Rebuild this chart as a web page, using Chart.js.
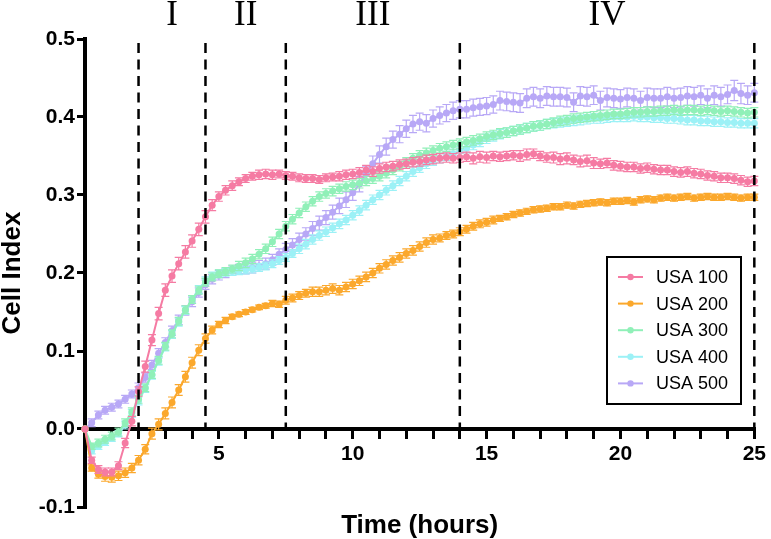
<!DOCTYPE html>
<html>
<head>
<meta charset="utf-8">
<script src="https://cdn.jsdelivr.net/npm/chart.js@4"></script>
<style>
  html, body { margin: 0; padding: 0; background: #fff; }
  #wrap { width: 771px; height: 539px; }
</style>
</head>
<body>
<div id="wrap"><canvas id="chart" width="771" height="539"></canvas></div>
<script>
// time points, every 15 min (hours)
var hours = [
  0, 0.25, 0.5, 0.75, 1, 1.25, 1.5, 1.75, 2, 2.25, 2.5, 2.75, 3, 3.25, 3.5, 3.75,
  4, 4.25, 4.5, 4.75, 5, 5.25, 5.5, 5.75, 6, 6.25, 6.5, 6.75, 7, 7.25, 7.5, 7.75,
  8, 8.25, 8.5, 8.75, 9, 9.25, 9.5, 9.75, 10, 10.25, 10.5, 10.75, 11, 11.25, 11.5, 11.75,
  12, 12.25, 12.5, 12.75, 13, 13.25, 13.5, 13.75, 14, 14.25, 14.5, 14.75, 15, 15.25, 15.5, 15.75,
  16, 16.25, 16.5, 16.75, 17, 17.25, 17.5, 17.75, 18, 18.25, 18.5, 18.75, 19, 19.25, 19.5, 19.75,
  20, 20.25, 20.5, 20.75, 21, 21.25, 21.5, 21.75, 22, 22.25, 22.5, 22.75, 23, 23.25, 23.5, 23.75,
  24, 24.25, 24.5, 24.75, 25
];

var seriesNames = ["USA 100", "USA 200", "USA 300", "USA 400", "USA 500"];
var seriesColors = ["#F57BA3", "#FBA82C", "#90F0B8", "#9CF1F6", "#B8A8F6"];

var usa100 = [
  0, -0.040, -0.052, -0.055,
  -0.055, -0.047, -0.018, 0.010,
  0.048, 0.080, 0.114, 0.148,
  0.178, 0.196, 0.212, 0.227,
  0.241, 0.256, 0.272, 0.287,
  0.298, 0.306, 0.312, 0.317,
  0.321, 0.324, 0.326, 0.327,
  0.326, 0.327, 0.325, 0.324,
  0.322, 0.321, 0.321, 0.320,
  0.322, 0.323, 0.324, 0.326,
  0.327, 0.329, 0.332, 0.330,
  0.334, 0.336, 0.337, 0.339,
  0.340, 0.342, 0.343, 0.345,
  0.346, 0.347, 0.348, 0.347,
  0.348, 0.349, 0.347, 0.349,
  0.348, 0.350, 0.349, 0.350,
  0.351, 0.350, 0.352, 0.353,
  0.350, 0.348, 0.348, 0.346,
  0.347, 0.345, 0.343, 0.344,
  0.341, 0.340, 0.341, 0.338,
  0.337, 0.336, 0.336, 0.334,
  0.335, 0.333, 0.332, 0.332,
  0.330, 0.329, 0.330, 0.328,
  0.327, 0.325, 0.324, 0.322,
  0.322, 0.321, 0.319, 0.317,
  0.318
];
var usa200 = [
  0, -0.050, -0.058, -0.061,
  -0.062, -0.060, -0.056, -0.050,
  -0.040, -0.026, -0.006, 0.006,
  0.020, 0.034, 0.050, 0.067,
  0.085, 0.101, 0.116, 0.127,
  0.134, 0.139, 0.144, 0.147,
  0.150, 0.153, 0.156, 0.158,
  0.161, 0.160, 0.165, 0.168,
  0.171, 0.174, 0.176, 0.176,
  0.178, 0.180, 0.178, 0.182,
  0.186, 0.190, 0.195, 0.200,
  0.206, 0.211, 0.216, 0.220,
  0.225, 0.229, 0.234, 0.239,
  0.243, 0.245, 0.248, 0.250,
  0.253, 0.256, 0.260, 0.263,
  0.265, 0.268, 0.270, 0.272,
  0.275, 0.277, 0.279, 0.281,
  0.282, 0.283, 0.285, 0.285,
  0.287, 0.286, 0.288, 0.289,
  0.290, 0.291, 0.290, 0.292,
  0.292, 0.293, 0.291, 0.294,
  0.295, 0.294, 0.296, 0.297,
  0.296, 0.297, 0.298, 0.296,
  0.297, 0.298, 0.297, 0.297,
  0.298, 0.297, 0.296, 0.297,
  0.297
];
var usa300 = [
  0, -0.022, -0.018, -0.013,
  -0.009, -0.004, 0.008, 0.022,
  0.038, 0.053, 0.070, 0.088,
  0.106, 0.122, 0.138, 0.153,
  0.166, 0.178, 0.188, 0.195,
  0.199, 0.202, 0.205, 0.209,
  0.213, 0.218, 0.224, 0.231,
  0.240, 0.250, 0.260, 0.269,
  0.277, 0.285, 0.292, 0.298,
  0.302, 0.305, 0.308, 0.311,
  0.313, 0.315, 0.318, 0.321,
  0.324, 0.328, 0.332, 0.337,
  0.342, 0.347, 0.351, 0.354,
  0.357, 0.360, 0.362, 0.364,
  0.366, 0.368, 0.370, 0.372,
  0.375, 0.377, 0.379, 0.380,
  0.382, 0.384, 0.386, 0.388,
  0.389, 0.391, 0.393, 0.395,
  0.396, 0.398, 0.399, 0.400,
  0.401, 0.402, 0.403, 0.404,
  0.404, 0.405, 0.406, 0.406,
  0.407, 0.407, 0.408, 0.408,
  0.409, 0.408, 0.409, 0.409,
  0.408, 0.409, 0.408, 0.407,
  0.408, 0.407, 0.406, 0.405,
  0.406
];
var usa400 = [
  0, -0.028, -0.022, -0.017,
  -0.012, -0.006, 0.005, 0.020,
  0.036, 0.052, 0.069, 0.087,
  0.105, 0.121, 0.137, 0.152,
  0.166, 0.179, 0.190, 0.196,
  0.199, 0.201, 0.202, 0.203,
  0.204, 0.205, 0.207, 0.209,
  0.212, 0.216, 0.220, 0.225,
  0.231, 0.237, 0.243, 0.248,
  0.253, 0.258, 0.263, 0.268,
  0.274, 0.280, 0.287, 0.294,
  0.300, 0.306, 0.312, 0.318,
  0.324, 0.330, 0.335, 0.340,
  0.344, 0.347, 0.350, 0.353,
  0.356, 0.360, 0.364, 0.368,
  0.372, 0.375, 0.378, 0.380,
  0.382, 0.384, 0.386, 0.388,
  0.389, 0.391, 0.392, 0.393,
  0.394, 0.395, 0.396, 0.397,
  0.398, 0.398, 0.399, 0.400,
  0.400, 0.400, 0.401, 0.400,
  0.400, 0.399, 0.399, 0.398,
  0.398, 0.397, 0.396, 0.396,
  0.395, 0.395, 0.394, 0.394,
  0.393, 0.393, 0.392, 0.392,
  0.392
];
var usa500 = [
  0, 0.008, 0.018, 0.024,
  0.028, 0.032, 0.038, 0.045,
  0.053, 0.066, 0.082, 0.097,
  0.111, 0.126, 0.140, 0.152,
  0.163, 0.175, 0.185, 0.192,
  0.197, 0.200, 0.203, 0.205,
  0.206, 0.207, 0.209, 0.212,
  0.217, 0.224, 0.230, 0.236,
  0.243, 0.250, 0.257, 0.264,
  0.271, 0.278, 0.286, 0.294,
  0.303, 0.314, 0.327, 0.340,
  0.352, 0.362, 0.371, 0.378,
  0.385, 0.391, 0.394, 0.392,
  0.398, 0.402, 0.405, 0.408,
  0.410, 0.410, 0.412, 0.413,
  0.414, 0.416, 0.421, 0.420,
  0.419, 0.418, 0.424, 0.426,
  0.424, 0.427, 0.426, 0.426,
  0.425, 0.419, 0.427, 0.426,
  0.428, 0.421, 0.425, 0.424,
  0.423, 0.425, 0.424, 0.421,
  0.425, 0.424, 0.424, 0.426,
  0.424, 0.425, 0.427, 0.426,
  0.428, 0.424, 0.428, 0.426,
  0.429, 0.434, 0.430, 0.428,
  0.431
];

// standard error of each point (same time grid)
var err100 = [
  0, .004, .005, .005,  .005, .005, .006, .006,  .006, .007, .007, .008,  .008, .008, .008, .008,
  .008, .008, .008, .007,  .006, .006, .006, .005,  .005, .005, .006, .006,  .006, .005, .005, .005,
  .005, .005, .005, .005,  .005, .005, .006, .006,  .006, .006, .006, .006,  .006, .006, .006, .006,
  .006, .006, .006, .006,  .006, .006, .006, .006,  .006, .006, .007, .007,  .007, .006, .006, .006,
  .006, .007, .007, .006,  .006, .006, .007, .007,  .007, .006, .007, .007,  .007, .006, .006, .006,
  .006, .006, .006, .006,  .006, .006, .006, .006,  .006, .006, .006, .006,  .006, .006, .006, .006,
  .006, .006, .006, .006,  .006
];
var err200 = [
  0, .004, .005, .006,  .006, .006, .006, .006,  .006, .006, .007, .007,  .007, .007, .007, .007,
  .007, .007, .006, .005,  .004, .004, .003, .003,  .003, .003, .003, .003,  .004, .004, .005, .005,
  .005, .005, .006, .006,  .006, .006, .006, .006,  .006, .006, .006, .006,  .006, .006, .006, .006,
  .006, .006, .006, .006,  .006, .005, .005, .005,  .005, .005, .005, .005,  .005, .005, .004, .004,
  .004, .004, .004, .004,  .004, .004, .004, .004,  .004, .004, .004, .004,  .004, .004, .004, .004,
  .004, .004, .004, .004,  .004, .004, .004, .004,  .004, .004, .004, .004,  .004, .004, .004, .004,
  .004, .004, .004, .004,  .004
];
var err300 = [
  0, .004, .005, .005,  .005, .005, .005, .005,  .005, .005, .005, .005,  .005, .005, .005, .005,
  .005, .005, .005, .005,  .005, .005, .005, .006,  .006, .006, .006, .006,  .006, .006, .006, .006,
  .006, .006, .006, .006,  .006, .006, .006, .006,  .006, .006, .006, .006,  .006, .006, .006, .006,
  .006, .006, .006, .006,  .006, .006, .006, .006,  .006, .006, .006, .006,  .006, .006, .006, .006,
  .006, .006, .006, .006,  .006, .006, .006, .006,  .006, .006, .006, .006,  .006, .006, .006, .006,
  .006, .006, .006, .006,  .006, .006, .006, .006,  .006, .006, .006, .006,  .006, .006, .006, .006,
  .006, .006, .006, .006,  .006
];
var err400 = [
  0, .004, .004, .004,  .004, .004, .005, .005,  .005, .005, .005, .005,  .005, .005, .005, .005,
  .005, .005, .005, .005,  .005, .005, .005, .005,  .005, .005, .005, .005,  .005, .005, .005, .005,
  .006, .006, .006, .006,  .006, .006, .006, .006,  .006, .006, .006, .006,  .006, .006, .006, .006,
  .006, .006, .006, .006,  .006, .006, .006, .006,  .006, .006, .006, .006,  .006, .006, .006, .006,
  .006, .006, .006, .006,  .006, .006, .006, .006,  .006, .006, .006, .006,  .006, .006, .006, .006,
  .006, .006, .006, .006,  .006, .006, .006, .006,  .006, .006, .006, .006,  .006, .006, .006, .006,
  .006, .006, .006, .006,  .006
];
var err500 = [
  0, .005, .005, .005,  .005, .005, .005, .005,  .006, .006, .006, .006,  .006, .006, .006, .006,
  .006, .006, .006, .006,  .006, .006, .006, .006,  .007, .007, .007, .007,  .007, .007, .008, .008,
  .008, .008, .009, .009,  .009, .009, .010, .010,  .010, .010, .010, .010,  .011, .011, .011, .011,
  .011, .011, .011, .011,  .011, .011, .011, .011,  .011, .011, .011, .011,  .011, .011, .012, .012,
  .012, .012, .012, .012,  .012, .012, .012, .012,  .012, .012, .012, .012,  .012, .012, .012, .012,
  .012, .012, .012, .012,  .012, .012, .012, .012,  .012, .012, .012, .012,  .012, .012, .012, .012,
  .012, .013, .013, .012,  .012
];

// growth phase boundaries (hours) and their labels
var phaseBounds = [2, 4.5, 7.5, 14, 25];
var phaseLabels = ["I", "II", "III", "IV"];

var yTicks = [-0.1, 0.0, 0.1, 0.2, 0.3, 0.4, 0.5];

var seriesValues = [usa100, usa200, usa300, usa400, usa500];
var seriesErrors = [err100, err200, err300, err400, err500];

var SANS = '"Liberation Sans", Arial, Helvetica, sans-serif';

// draws the vertical error bars of a dataset just before its line and points
var errorBars = {
  id: "errorBars",
  beforeDatasetDraw: function (chart, args) {
    var ds = chart.data.datasets[args.index];
    var y = chart.scales.y;
    var ctx = chart.ctx;
    ctx.save();
    ctx.strokeStyle = ds.borderColor;
    ctx.lineWidth = 1.2;
    args.meta.data.forEach(function (pt, i) {
      var e = ds.errors[i];
      if (!e) return;
      var v = ds.data[i].y;
      var top = y.getPixelForValue(v + e);
      var bot = y.getPixelForValue(v - e);
      ctx.beginPath();
      ctx.moveTo(pt.x, top); ctx.lineTo(pt.x, bot);
      ctx.moveTo(pt.x - 4, top); ctx.lineTo(pt.x + 4, top);
      ctx.moveTo(pt.x - 4, bot); ctx.lineTo(pt.x + 4, bot);
      ctx.stroke();
    });
    ctx.restore();
  }
};

// dashed phase separators and the roman numerals above them
var phases = {
  id: "phases",
  afterDatasetsDraw: function (chart) {
    var ctx = chart.ctx, x = chart.scales.x, y = chart.scales.y;
    ctx.save();
    ctx.strokeStyle = "#000";
    ctx.lineWidth = 2.5;
    ctx.setLineDash([10, 6.5]);
    phaseBounds.forEach(function (b) {
      var px = x.getPixelForValue(b);
      ctx.beginPath();
      ctx.moveTo(px, y.getPixelForValue(0.5) + 4);
      ctx.lineTo(px, y.getPixelForValue(0));
      ctx.stroke();
    });
    ctx.setLineDash([]);
    ctx.fillStyle = "#000";
    ctx.font = '35px "Liberation Serif", "Times New Roman", serif';
    ctx.textAlign = "center";
    ctx.textBaseline = "alphabetic";
    phaseLabels.forEach(function (t, i) {
      var mid = (phaseBounds[i] + phaseBounds[i + 1]) / 2;
      ctx.fillText(t, x.getPixelForValue(mid), 25);
    });
    ctx.restore();
  }
};

// boxed legend in the lower right of the plot
var boxLegend = {
  id: "boxLegend",
  afterDraw: function (chart) {
    var ctx = chart.ctx;
    var left = 607, top = 257, w = 134, h = 147;
    ctx.save();
    ctx.fillStyle = "#fff";
    ctx.fillRect(left, top, w, h);
    ctx.strokeStyle = "#000";
    ctx.lineWidth = 2;
    ctx.strokeRect(left, top, w, h);
    ctx.font = "18px " + SANS;
    ctx.textAlign = "left";
    ctx.textBaseline = "middle";
    chart.data.datasets.forEach(function (ds, i) {
      var cy = top + 20 + i * 26.6;
      ctx.strokeStyle = ds.borderColor;
      ctx.lineWidth = 2;
      ctx.beginPath();
      ctx.moveTo(left + 11, cy); ctx.lineTo(left + 36, cy);
      ctx.stroke();
      ctx.fillStyle = ds.borderColor;
      ctx.beginPath();
      ctx.arc(left + 23.5, cy, 3.2, 0, Math.PI * 2);
      ctx.fill();
      ctx.fillStyle = "#000";
      ctx.fillText(ds.label, left + 49, cy + 1);
    });
    ctx.restore();
  }
};

var datasets = seriesNames.map(function (name, s) {
  return {
    label: name,
    data: hours.map(function (h, i) { return { x: h, y: seriesValues[s][i] }; }),
    errors: seriesErrors[s],
    borderColor: seriesColors[s],
    backgroundColor: seriesColors[s],
    borderWidth: 2,
    pointRadius: 3.5,
    pointHoverRadius: 3.5,
    pointBorderWidth: 0,
    tension: 0,
    clip: false
  };
});

new Chart(document.getElementById("chart"), {
  type: "line",
  data: { datasets: datasets },
  options: {
    responsive: false,
    animation: false,
    events: [],
    layout: { padding: { left: 0, top: 39, right: 12, bottom: 32 } },
    plugins: { legend: { display: false }, tooltip: { enabled: false } },
    scales: {
      x: {
        type: "linear",
        min: 0,
        max: 25,
        position: { y: 0 },
        border: { display: true, color: "#000", width: 4 },
        grid: { drawOnChartArea: false, drawTicks: true, tickLength: 8, lineWidth: 3, color: "#000" },
        ticks: {
          stepSize: 1,
          autoSkip: false,
          maxRotation: 0,
          padding: 5,
          color: "#000",
          font: { family: SANS, size: 21, weight: "bold" },
          callback: function (v) { return v % 5 === 0 && v !== 0 ? String(v) : ""; }
        },
        title: {
          display: true,
          text: "Time (hours)",
          color: "#000",
          font: { family: SANS, size: 26, weight: "bold" },
          padding: { top: 38, bottom: 0 }
        }
      },
      y: {
        min: yTicks[0],
        max: yTicks[yTicks.length - 1],
        afterFit: function (scale) { scale.width = 85; },
        afterBuildTicks: function (scale) {
          scale.ticks = yTicks.map(function (v) { return { value: v }; });
        },
        border: { display: true, color: "#000", width: 4 },
        grid: { drawOnChartArea: false, drawTicks: true, tickLength: 8, lineWidth: 3, color: "#000" },
        ticks: {
          padding: 2,
          color: "#000",
          font: { family: SANS, size: 21, weight: "bold" },
          callback: function (v) { return Number(v).toFixed(1); }
        },
        title: {
          display: true,
          text: "Cell Index",
          color: "#000",
          font: { family: SANS, size: 26, weight: "bold", lineHeight: 1 },
          padding: 0
        }
      }
    }
  },
  plugins: [errorBars, phases, boxLegend]
});
</script>
</body>
</html>
